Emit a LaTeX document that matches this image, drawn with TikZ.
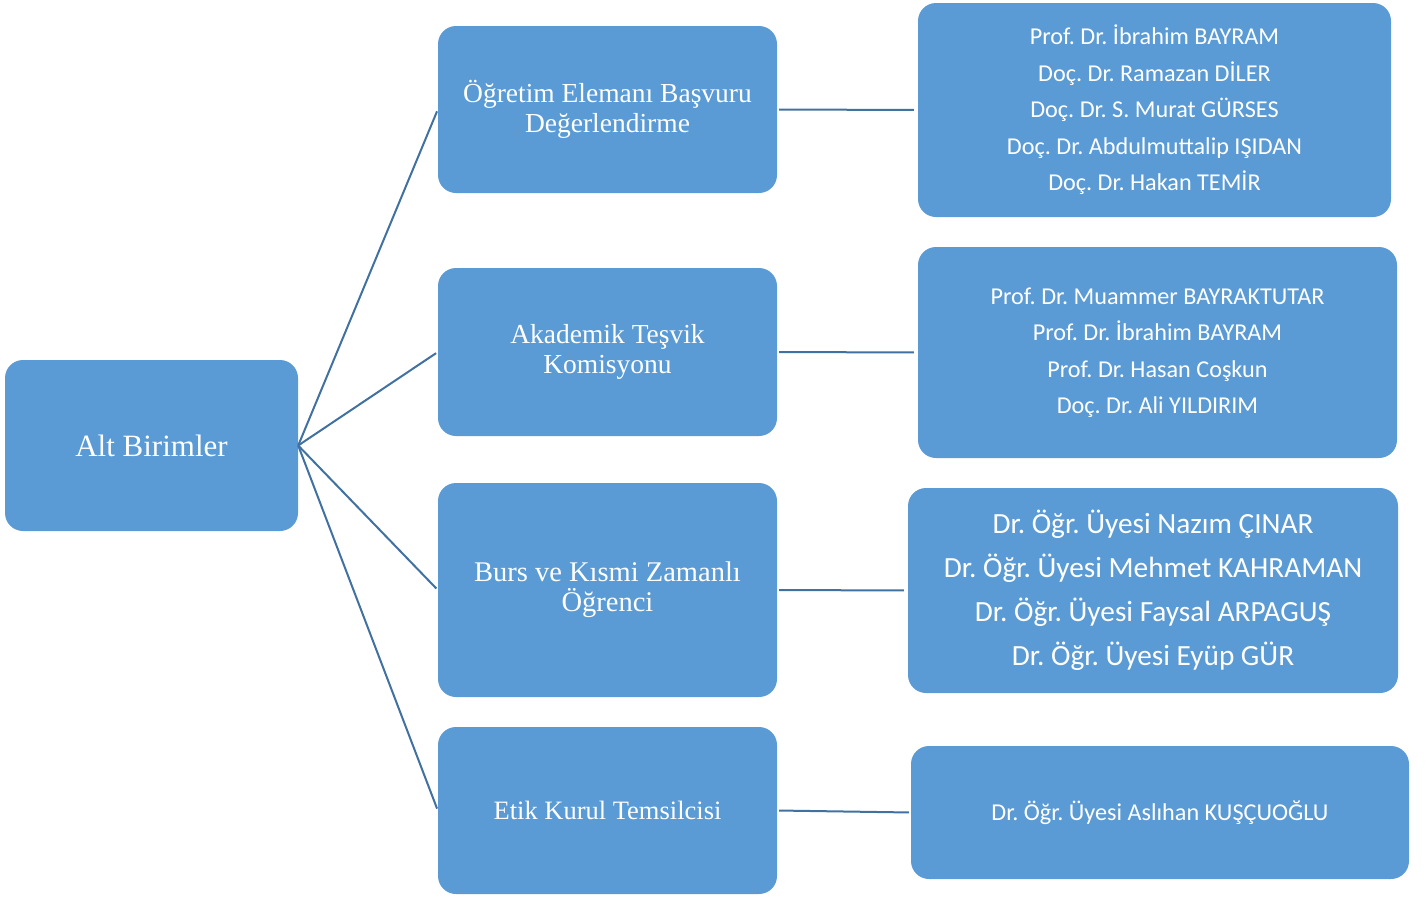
\documentclass[tikz,border=0pt]{standalone}
\usepackage{fontspec}
\setmainfont{Liberation Serif}
\newfontfamily\carlito{Carlito}
\frenchspacing
\definecolor{boxblue}{RGB}{91,155,213}
\definecolor{linkblue}{RGB}{65,113,160}
\begin{document}
\begin{tikzpicture}[x=1pt,y=-1pt,
  box/.style={rectangle, rounded corners=18pt, fill=boxblue, text=white, inner sep=0pt, align=center},
  midbox/.style={box, minimum width=339pt, font=\fontsize{27.5}{30}\selectfont},
  namebox/.style={box, font=\carlito\fontsize{24.2}{36.5}\selectfont},
  link/.style={draw=linkblue, line width=2pt}]
\useasboundingbox (0,0) rectangle (1428,897);
\node[box, minimum width=293pt, minimum height=171pt, font=\fontsize{31}{36}\selectfont] (L) at (151.5,445.5) {Alt Birimler};
\node[midbox, minimum height=167pt] (M1) at (607.5,109.5) {Öğretim Elemanı Başvuru\\Değerlendirme};
\node[midbox, minimum height=168pt] (M2) at (607.5,352) {Akademik Teşvik\\Komisyonu};
\node[midbox, minimum height=214pt, font=\fontsize{28.5}{30}\selectfont] (M3) at (607.5,590) {Burs ve Kısmi Zamanlı\\Öğrenci};
\node[midbox, minimum height=167pt, font=\fontsize{26.5}{30}\selectfont] (M4) at (607.5,810.5) {Etik Kurul Temsilcisi};
\node[namebox, minimum width=473pt, minimum height=214pt] (R1) at (1154.5,110) {Prof. Dr. İbrahim BAYRAM\\Doç. Dr. Ramazan DİLER\\Doç. Dr. S. Murat GÜRSES\\Doç. Dr. Abdulmuttalip IŞIDAN\\Doç. Dr. Hakan TEMİR};
\node[namebox, minimum width=479pt, minimum height=211pt] (R2) at (1157.5,352.5) {Prof. Dr. Muammer BAYRAKTUTAR\\Prof. Dr. İbrahim BAYRAM\\Prof. Dr. Hasan Coşkun\\Doç. Dr. Ali YILDIRIM};
\node[namebox, minimum width=490pt, minimum height=205pt, font=\carlito\fontsize{29.3}{44}\selectfont] (R3) at (1153,590.5) {Dr. Öğr. Üyesi Nazım ÇINAR\\Dr. Öğr. Üyesi Mehmet KAHRAMAN\\Dr. Öğr. Üyesi Faysal ARPAGUŞ\\Dr. Öğr. Üyesi Eyüp GÜR};
\node[namebox, minimum width=498pt, minimum height=133pt] (R4) at (1160,812.5) {Dr. Öğr. Üyesi Aslıhan KUŞÇUOĞLU};
\foreach \m in {M1,M2,M3,M4} {
  \draw[link, shorten >=2pt] (L.east) -- (\m.west);
}
\draw[link, shorten <=2pt, shorten >=4pt] (M1.east) -- (R1.west);
\draw[link, shorten <=2pt, shorten >=4pt] (M2.east) -- (R2.west);
\draw[link, shorten <=2pt, shorten >=4pt] (M3.east) -- (R3.west);
\draw[link, shorten <=2pt, shorten >=2pt] (M4.east) -- (R4.west);
\end{tikzpicture}
\end{document}
